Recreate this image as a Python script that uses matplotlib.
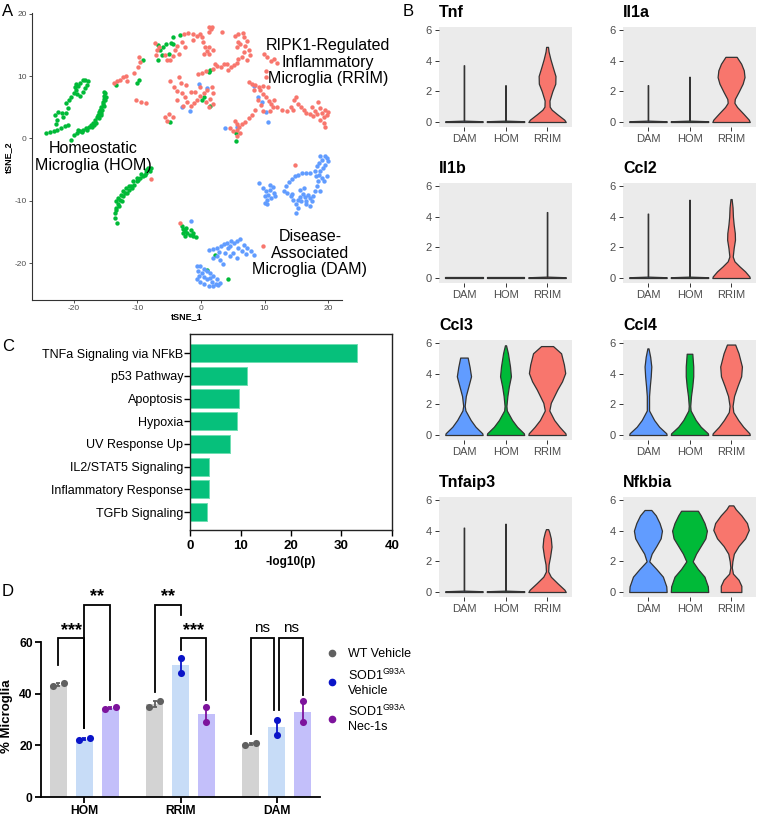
import matplotlib
matplotlib.use('Agg')
import matplotlib.pyplot as plt
from matplotlib.lines import Line2D
import numpy as np

plt.rcParams['font.family'] = ['Liberation Sans', 'DejaVu Sans']
plt.rcParams['mathtext.fontset'] = 'custom'
plt.rcParams['mathtext.rm'] = 'Liberation Sans'
plt.rcParams['mathtext.it'] = 'Liberation Sans:italic'
plt.rcParams['mathtext.bf'] = 'Liberation Sans:bold'
plt.rcParams['axes.unicode_minus'] = False

# ======================= DATA =======================
# ---- Panel A: tSNE coordinates (tSNE_1, tSNE_2) per cluster ----
hom_cells = [
    (-24.4, 0.9), (-23.8, 1.1), (-23.1, 1.2), (-22.6, 1.4), (-22.1, 1.7), (-21.4, 2.0), (-20.9, 2.1),
    (-22.8, 2.3), (-22.6, 3.0), (-23.0, 3.7), (-22.5, 4.3), (-21.9, 4.0), (-21.7, 3.4), (-21.2, 4.0),
    (-20.9, 4.8), (-21.3, 5.6), (-20.7, 6.1), (-20.4, 6.7), (-20.0, 7.2), (-19.6, 7.8), (-19.3, 8.4),
    (-19.0, 8.9), (-18.5, 9.3), (-18.2, 9.4), (-17.8, 9.2), (-18.0, 8.6), (-18.3, 8.1), (-18.6, 7.5),
    (-19.1, 6.8), (-19.7, 8.8), (-19.9, 8.2), (-19.5, 7.1),
    (-20.5, -0.3), (-20.0, 0.5), (-19.5, 0.9), (-19.1, 1.2), (-18.5, 1.4), (-18.1, 1.7), (-17.7, 1.9),
    (-17.3, 2.1), (-17.0, 2.5), (-16.7, 2.9), (-16.4, 3.4), (-16.2, 3.8), (-16.0, 4.2), (-15.9, 4.6),
    (-15.7, 5.1), (-15.5, 5.5), (-15.4, 5.9), (-15.3, 6.3), (-15.2, 6.8), (-15.1, 7.2), (-15.3, 7.5),
    (-18.8, 1.1), (-17.9, 1.4), (-17.1, 1.9), (-16.5, 2.4), (-16.1, 3.2), (-15.7, 4.0), (-15.6, 4.5),
    (-15.3, 5.2), (-15.1, 6.1), (-15.0, 6.7), (-19.3, 1.4), (-16.9, 2.2), (-15.8, 3.7),
    (-13.2, -13.5), (-13.5, -12.8), (-13.5, -12.0), (-13.3, -11.2), (-13.0, -10.5), (-12.8, -9.9),
    (-12.3, -9.3), (-12.0, -8.7), (-11.4, -8.3), (-11.0, -7.7), (-10.6, -7.4), (-10.1, -6.9),
    (-9.6, -6.4), (-9.1, -6.0), (-8.6, -5.6), (-8.0, -5.2), (-8.3, -4.8), (-7.8, -4.8), (-8.6, -5.1),
    (-9.4, -5.7), (-10.0, -6.4), (-10.7, -6.9), (-11.3, -7.6), (-11.8, -8.0), (-12.2, -8.5),
    (-12.6, -9.1), (-13.0, -9.6), (-13.3, -10.1), (-12.5, -10.1), (-12.9, -10.9), (-13.4, -11.5),
    (-11.7, -8.8), (-10.9, -8.0), (-9.9, -6.7), (-8.8, -5.9),
    (-3.0, -14.0), (-2.8, -14.6), (-2.5, -14.9), (-2.2, -15.2), (-1.7, -15.5), (-1.2, -15.6),
    (-0.8, -15.8), (-2.3, -14.4), (-1.6, -14.7), (-1.3, -15.1), (-2.9, -15.2), (-2.5, -15.6),
    (-6.7, 14.9), (-6.4, 14.2), (-5.9, 14.7), (-5.5, 15.1), (-4.7, 15.3), (-4.4, 15.1), (-6.1, 13.3),
    (-6.7, 12.6), (-5.1, 13.5), (-3.3, 16.5), (-9.1, 12.5), (-13.3, 8.5), (-10.0, 8.9), (-9.7, 9.4),
    (1.2, 10.7), (1.4, 11.0), (0.5, 6.6), (0.2, 6.2), (1.4, 5.2), (-4.9, 2.7), (5.5, 0.8), (5.5, -0.4),
    (2.2, -18.7), (4.2, -22.5), (0.9, -21.1), (-4.4, 16.3),
]
rrim_cells = [
    (-13.7, 8.9), (-13.2, 9.2), (-12.7, 9.4), (-12.2, 9.8), (-11.8, 10.0), (-11.7, 9.2), (-9.7, 13.0),
    (-9.6, 12.2), (-9.9, 11.5), (-10.6, 10.5), (-10.2, 6.2), (-9.5, 5.9), (-8.6, 5.7),
    (-7.2, 15.3), (-7.0, 14.1), (-7.1, 13.3), (-6.6, 14.6), (-5.7, 13.3), (-5.4, 12.5), (-4.8, 12.6),
    (-4.1, 14.1), (-3.7, 14.8), (-3.0, 15.5), (-2.5, 14.7), (-3.4, 13.5), (-4.4, 13.2), (-2.7, 16.7),
    (-2.0, 16.9), (-1.3, 16.8), (-0.7, 16.4), (-1.2, 15.8),
    (-0.2, 16.8), (0.1, 16.2), (0.3, 15.5), (0.6, 14.7), (0.9, 14.0), (1.2, 13.5), (0.5, 13.6),
    (1.3, 14.7), (1.2, 17.9), (1.5, 17.5), (1.3, 17.1), (1.7, 17.8), (3.3, 17.1), (1.9, 14.1),
    (-0.4, 10.3), (0.1, 10.5), (0.8, 10.8), (1.9, 11.2), (2.6, 11.6), (3.1, 11.4), (3.6, 11.9),
    (4.1, 12.0), (4.7, 11.5), (5.2, 11.7), (5.7, 12.1), (5.9, 12.8), (2.2, 12.0), (4.3, 10.9),
    (5.4, 16.4), (5.9, 16.7), (6.6, 16.9), (6.7, 16.2), (7.3, 15.6), (6.9, 14.8), (7.6, 14.1),
    (6.8, 13.9), (6.1, 15.2), (5.6, 14.6), (7.7, 13.3), (7.2, 12.6), (6.4, 13.1), (5.8, 15.5),
    (9.9, 13.6), (10.4, 13.0), (11.0, 12.4), (11.5, 12.8), (11.9, 12.1), (10.3, 10.8), (10.2, 9.8),
    (-4.8, 9.2), (-4.3, 8.2), (-3.7, 7.6), (-3.2, 8.9), (-3.0, 7.3), (-2.5, 6.6), (-2.2, 5.8),
    (-1.6, 5.2), (-1.1, 5.6), (-0.6, 6.2), (-0.1, 6.8), (0.5, 7.3), (1.0, 7.8), (1.7, 8.2), (1.9, 7.3),
    (1.4, 6.3), (0.8, 5.8), (1.3, 5.0), (1.9, 5.5), (-1.5, 7.5), (-2.3, 8.5), (-2.9, 5.2), (-3.8, 6.1),
    (-5.1, 3.9), (-5.7, 3.4), (-5.3, 2.8), (-4.4, 3.5), (-0.9, 7.5), (-0.2, 8.3), (-3.4, 9.8),
    (7.5, 9.1), (8.0, 8.8), (8.5, 8.5), (9.3, 7.7), (9.8, 7.1), (10.3, 6.6), (10.7, 6.0), (11.0, 5.5),
    (11.4, 5.0), (8.9, 6.1), (9.4, 5.3), (9.8, 4.4), (10.9, 4.4), (12.0, 5.0), (12.8, 4.5),
    (13.5, 4.4), (14.1, 5.1), (14.6, 6.1), (15.0, 6.6), (15.3, 5.5), (15.8, 5.0), (16.2, 4.6),
    (14.5, 4.6), (8.3, 7.8), (9.1, 8.2), (9.7, 8.4), (10.6, 8.2), (11.5, 6.2), (8.5, 4.5), (8.0, 3.7),
    (7.5, 3.2),
    (17.4, 5.1), (18.0, 4.4), (18.5, 5.9), (18.8, 4.8), (19.1, 4.0), (19.4, 3.5), (19.6, 4.5),
    (19.8, 3.7), (18.7, 2.9), (19.3, 2.4), (19.6, 1.9), (18.3, 3.9), (17.7, 3.6), (20.0, 4.3),
    (17.2, 3.9), (16.6, 4.0),
    (5.4, 2.8), (5.7, 2.3), (6.0, 1.8), (6.5, 2.3), (7.0, 2.7), (6.1, 0.9), (5.7, 0.4), (5.1, 1.2),
    (4.6, 1.6), (5.7, 1.3),
    (-7.8, -6.5), (-3.3, -13.5), (14.8, -4.3), (9.8, -17.3),
]
dam_cells = [
    (9.2, -7.1), (9.8, -8.0), (10.2, -8.5), (10.6, -9.1), (10.4, -9.8), (10.1, -10.3), (10.9, -8.3),
    (11.3, -7.8), (11.5, -8.7), (11.0, -9.6), (10.8, -7.5), (11.7, -9.3), (10.1, -9.2), (10.4, -10.5),
    (13.1, -8.4), (13.4, -7.6), (13.8, -7.0), (14.3, -6.5), (14.8, -6.0), (15.3, -5.8), (15.9, -5.6),
    (16.5, -5.6), (17.1, -5.5), (13.6, -8.8), (14.1, -9.2), (14.5, -9.9), (14.9, -10.5), (15.2, -11.2),
    (14.9, -11.9), (14.4, -8.9), (15.3, -9.8),
    (15.6, -8.3), (16.0, -8.9), (16.4, -9.4), (16.6, -10.0), (17.1, -9.6), (17.4, -10.1), (16.9, -9.1),
    (16.2, -8.0), (16.5, -10.5), (17.2, -10.8), (17.7, -9.3), (15.6, -9.4), (15.8, -10.1), (18.0, -8.5),
    (18.3, -7.7), (18.7, -8.4),
    (18.2, -4.4), (18.6, -3.9), (19.1, -3.4), (19.5, -2.8), (19.8, -3.1), (20.0, -3.7), (19.6, -4.3),
    (19.2, -4.8), (18.8, -5.3), (18.6, -5.9), (19.1, -6.3), (19.4, -6.9), (19.8, -6.0), (18.5, -6.9),
    (18.1, -6.1), (17.9, -5.3), (18.7, -2.9),
    (1.2, -17.9), (1.9, -17.8), (2.6, -17.5), (3.1, -17.3), (3.6, -17.0), (4.1, -16.7), (4.7, -16.4),
    (5.2, -16.8), (5.7, -16.5), (6.2, -16.1), (6.8, -17.1), (7.3, -17.6), (7.8, -18.1), (8.3, -18.7),
    (3.8, -18.4), (4.6, -18.9), (5.1, -18.3), (5.6, -19.2), (3.0, -19.5), (3.5, -20.1), (2.5, -18.8),
    (5.9, -17.6), (6.5, -18.1), (4.3, -17.6), (7.1, -18.5), (2.8, -18.2), (4.6, -17.3), (1.9, -19.2),
    (-0.7, -20.4), (-0.2, -20.5), (0.4, -20.9), (0.9, -21.2), (1.4, -21.6), (1.9, -22.0), (2.5, -22.6),
    (3.0, -23.2), (2.4, -23.3), (1.7, -23.0), (1.0, -22.6), (0.4, -22.2), (-0.3, -22.0), (-0.7, -22.5),
    (-0.2, -23.0), (0.5, -23.3), (1.2, -23.6), (1.9, -23.7), (2.7, -23.5), (-0.4, -21.3), (0.1, -21.6),
    (1.4, -22.3),
    (-3.0, 5.1), (-1.7, 4.4), (-0.3, 8.8), (0.9, 8.0), (8.3, 8.4), (9.0, 6.7), (9.6, 5.9), (10.3, 4.3),
    (10.6, 2.7), (3.8, 1.7), (5.6, 1.9), (-1.6, -13.2),
]
cluster_names = ['HOM', 'DAM', 'RRIM']

# ---- Panel B: violin outlines (expression level, relative half-width) ----
vln_groups = ['DAM', 'HOM', 'RRIM']
vln_genes = ['Tnf', 'Il1a', 'Il1b', 'Ccl2', 'Ccl3', 'Ccl4', 'Tnfaip3', 'Nfkbia']
# zero-inflated groups: maximum expression of the thin spike (0 = flat line only)
vln_spike_max = {
    'Tnf': {'DAM': 3.7, 'HOM': 2.4},
    'Il1a': {'DAM': 2.4, 'HOM': 2.95},
    'Il1b': {'DAM': 0.0, 'HOM': 0.0, 'RRIM': 4.3},
    'Ccl2': {'DAM': 4.2, 'HOM': 5.1},
    'Tnfaip3': {'DAM': 4.2, 'HOM': 4.45},
}
vln_profiles = {
    'Tnf': {'RRIM': ([0, 0.15, 0.5, 0.8, 1.0, 1.4, 2.0, 2.5, 3.0, 3.6, 4.1, 4.6, 4.9],
                     [1.0, 0.92, 0.55, 0.25, 0.14, 0.13, 0.28, 0.44, 0.45, 0.3, 0.18, 0.08, 0.05])},
    'Il1a': {'RRIM': ([0, 0.15, 0.54, 0.98, 1.25, 1.5, 1.96, 2.5, 2.93, 3.37, 3.8, 4.1, 4.25],
                      [1.0, 0.95, 0.66, 0.32, 0.18, 0.2, 0.4, 0.62, 0.72, 0.68, 0.54, 0.38, 0.3])},
    'Ccl2': {'RRIM': ([0, 0.1, 0.43, 0.76, 1.09, 1.4, 1.96, 2.5, 2.93, 3.48, 4.0, 4.6, 5.15],
                      [1.0, 0.98, 0.75, 0.45, 0.18, 0.09, 0.14, 0.21, 0.2, 0.14, 0.1, 0.08, 0.03])},
    'Ccl3': {'DAM': ([0, 0.11, 0.54, 0.98, 1.6, 1.9, 2.54, 3.18, 3.83, 4.45, 5.05],
                     [1.0, 0.98, 0.62, 0.36, 0.08, 0.04, 0.1, 0.24, 0.38, 0.3, 0.2]),
             'HOM': ([0, 0.11, 0.54, 0.98, 1.6, 1.9, 2.54, 3.18, 3.83, 4.47, 5.33, 5.85],
                     [1.0, 0.98, 0.62, 0.35, 0.07, 0.05, 0.1, 0.18, 0.29, 0.24, 0.13, 0.03]),
             'RRIM': ([0, 0.11, 0.54, 0.98, 1.6, 2.1, 2.97, 3.5, 4.04, 4.6, 5.33, 5.8],
                      [1.0, 0.98, 0.66, 0.38, 0.12, 0.2, 0.55, 0.8, 0.97, 0.9, 0.75, 0.32])},
    'Ccl4': {'DAM': ([0, 0.11, 0.54, 0.98, 1.6, 2.54, 3.18, 3.83, 4.47, 5.1, 5.65],
                     [1.0, 0.98, 0.6, 0.33, 0.06, 0.06, 0.1, 0.15, 0.18, 0.12, 0.03]),
             'HOM': ([0, 0.11, 0.54, 0.98, 1.6, 1.9, 2.54, 3.18, 3.83, 4.47, 5.3],
                     [1.0, 0.98, 0.6, 0.33, 0.06, 0.04, 0.08, 0.15, 0.2, 0.2, 0.15]),
             'RRIM': ([0, 0.11, 0.54, 0.98, 1.5, 1.9, 2.54, 3.18, 3.83, 4.47, 5.33, 5.9],
                      [1.0, 0.98, 0.65, 0.38, 0.12, 0.08, 0.16, 0.34, 0.54, 0.58, 0.4, 0.22])},
    'Tnfaip3': {'RRIM': ([0, 0.15, 0.58, 1.0, 1.34, 1.8, 2.3, 2.96, 3.5, 3.9, 4.1],
                         [1.0, 0.93, 0.55, 0.2, 0.06, 0.08, 0.16, 0.24, 0.2, 0.12, 0.06])},
    'Nfkbia': {'DAM': ([0, 0.37, 1.0, 1.5, 2.0, 2.5, 3.0, 3.5, 4.0, 4.5, 5.0, 5.35],
                       [1.0, 0.98, 0.8, 0.45, 0.07, 0.2, 0.45, 0.68, 0.75, 0.62, 0.42, 0.18]),
               'HOM': ([0, 0.37, 1.0, 1.5, 2.0, 2.5, 3.0, 3.5, 4.0, 4.5, 5.0, 5.3],
                       [1.0, 0.98, 0.8, 0.45, 0.17, 0.35, 0.6, 0.85, 0.93, 0.8, 0.6, 0.45]),
               'RRIM': ([0, 0.4, 0.8, 1.2, 1.6, 2.0, 2.5, 3.0, 3.5, 4.05, 4.5, 5.0, 5.4, 5.65],
                        [0.55, 0.55, 0.4, 0.1, 0.04, 0.07, 0.15, 0.4, 0.75, 0.95, 0.85, 0.55, 0.25, 0.12])},
}

# ---- Panel C: pathway enrichment ----
pathways = ['TNFa Signaling via NFkB', 'p53 Pathway', 'Apoptosis', 'Hypoxia', 'UV Response Up',
            'IL2/STAT5 Signaling', 'Inflammatory Response', 'TGFb Signaling']
neglog10p = [33.2, 11.2, 9.7, 9.2, 7.9, 3.8, 3.7, 3.4]

# ---- Panel D: % microglia per cluster (two animals each) ----
d_groups = ['HOM', 'RRIM', 'DAM']
d_labels = ['WT Vehicle', 'SOD1$^{\\mathrm{G93A}}$\nVehicle', 'SOD1$^{\\mathrm{G93A}}$\nNec-1s']
wt_vehicle = [[43, 44], [35, 37], [20, 21]]
sod1_vehicle = [[22, 23], [48, 54], [24, 30]]
sod1_nec1s = [[34, 35], [29, 35], [29, 37]]
# significance: (group, cond a, cond b, bracket height, leg a bottom, leg b bottom, label)
d_sig = [
    (0, 0, 1, 61.4, 51.0, 26.6, '***'),
    (0, 1, 2, 74.3, 26.6, 37.5, '**'),
    (1, 0, 1, 74.3, 40.7, 70.3, '**'),
    (1, 1, 2, 61.4, 56.8, 37.5, '***'),
    (2, 0, 1, 61.4, 24.5, 33.7, 'ns'),
    (2, 1, 2, 61.4, 33.7, 39.4, 'ns'),
]

# ======================= FIGURE =======================
W, H = 757, 821
fig = plt.figure(figsize=(W / 100, H / 100), dpi=100)


def add_ax(l, t, r, b):
    return fig.add_axes([l / W, 1 - b / H, (r - l) / W, (b - t) / H])


def ftext(x, y, s, **kw):
    fig.text(x / W, 1 - y / H, s, **kw)


RED, GREEN, BLUE = '#F8766D', '#00BA38', '#619CFF'
clus_col = {'HOM': GREEN, 'DAM': BLUE, 'RRIM': RED}

# ---------------- Panel A ----------------
axA = add_ax(32, 13, 342, 300)
for name, cells in zip(cluster_names, [hom_cells, dam_cells, rrim_cells]):
    xy = np.array(cells)
    axA.scatter(xy[:, 0], xy[:, 1], s=10, color=clus_col[name], linewidths=0, zorder=2)
axA.set_xlim(-26.6, 22.2)
axA.set_ylim(-25.9, 20.1)
axA.set_xticks([-20, -10, 0, 10, 20])
axA.set_yticks([-20, -10, 0, 10, 20])
for s in ['top', 'right']:
    axA.spines[s].set_visible(False)
for s in ['left', 'bottom']:
    axA.spines[s].set_color('#333333')
    axA.spines[s].set_linewidth(0.8)
axA.tick_params(length=2.5, width=0.6, color='#333333', labelsize=6, labelcolor='#4D4D4D', pad=1.2)
ftext(187, 317, 'tSNE_1', ha='center', va='center', fontsize=6.5, fontweight='bold')
ftext(8, 157, 'tSNE_2', ha='center', va='center', fontsize=6.5, fontweight='bold', rotation=90)
ftext(328, 62, 'RIPK1-Regulated\nInflammatory\nMicroglia (RRIM)', ha='center', va='center',
      fontsize=11.5, linespacing=1.15)
ftext(93, 157, 'Homeostatic\nMicroglia (HOM)', ha='center', va='center', fontsize=11.5, linespacing=1.15)
ftext(310, 253, 'Disease-\nAssociated\nMicroglia (DAM)', ha='center', va='center', fontsize=11.5,
      linespacing=1.15)

# ---------------- Panel B ----------------
col_left = [439, 623]
zero_lines = [122, 278, 435, 592]
ppu = 15.33
for gi, gene in enumerate(vln_genes):
    r, c = divmod(gi, 2)
    l = col_left[c]
    b = zero_lines[r] + 0.3 * ppu
    t = b - 6.5 * ppu
    ax = add_ax(l, t, l + 133, b)
    ax.set_facecolor('#EBEBEB')
    for s in ax.spines.values():
        s.set_visible(False)
    for k, grp in enumerate(vln_groups):
        pos = k + 1
        if gene in vln_spike_max and grp in vln_spike_max[gene]:
            m = vln_spike_max[gene][grp]
            if m > 0:
                ys, ws = [0, 0.05, 0.09, m], [1, 1, 0.012, 0.012]
            else:
                ys, ws = [0, 0.05], [1, 1]
        else:
            ys, ws = vln_profiles[gene][grp]
        ys = np.array(ys, float)
        half = 0.45 * np.array(ws, float)
        ax.fill_betweenx(ys, pos - half, pos + half, facecolor=clus_col[grp], edgecolor='#333333',
                         linewidth=0.9, zorder=2)
    ax.set_xlim(0.4, 3.6)
    ax.set_ylim(-0.3, 6.2)
    ax.set_xticks([1, 2, 3])
    ax.set_xticklabels(vln_groups)
    ax.set_yticks([0, 2, 4, 6])
    ax.tick_params(length=3, width=0.7, color='#333333', labelsize=8, labelcolor='#4D4D4D', pad=2)
    ax.text(0.0, 1 + 14.5 / 99.6, gene, transform=ax.transAxes, ha='left', va='center',
            fontsize=11.5, fontweight='bold')

# ---------------- Panel C ----------------
axC = add_ax(190.3, 334, 391.7, 530)
ypos = np.arange(len(pathways))
axC.barh(ypos, neglog10p, height=0.8, color='#06C07B', edgecolor='#6FDDB2', linewidth=0.7, zorder=2)
axC.set_ylim(7.79, -0.84)
axC.set_xlim(0, 40)
axC.set_yticks(ypos)
axC.set_yticklabels(pathways)
axC.set_xticks([0, 10, 20, 30, 40])
for s in axC.spines.values():
    s.set_linewidth(1.0)
    s.set_color('#222222')
axC.tick_params(axis='y', length=4, width=1.0, labelsize=9, pad=1)
axC.tick_params(axis='x', length=4, width=1.0, labelsize=9.5, pad=3)
for lab in axC.get_xticklabels():
    lab.set_fontweight('bold')
axC.set_xlabel('-log10(p)', fontsize=8.5, fontweight='bold', labelpad=3)

# ---------------- Panel D ----------------
axD = add_ax(41, 590.4, 320, 797)
bar_cols = ['#D3D3D3', '#C7DCF7', '#C3BFFA']
dot_cols = ['#606060', '#0A14C8', '#7D139C']
offs = [-0.27, 0.0, 0.27]
cond_vals = [wt_vehicle, sod1_vehicle, sod1_nec1s]
for ci, vals in enumerate(cond_vals):
    for gi in range(len(d_groups)):
        v = np.array(sorted(vals[gi]), float)
        x0 = gi + offs[ci]
        mean = v.mean()
        sem = v.std(ddof=1) / np.sqrt(len(v))
        axD.bar(x0, mean, width=0.18, color=bar_cols[ci], zorder=1)
        if abs(v[1] - v[0]) < 3:
            xs = [x0 - 0.057, x0 + 0.057]
        else:
            xs = [x0, x0]
        axD.errorbar(x0, mean, yerr=sem, fmt='none', ecolor=dot_cols[ci], elinewidth=1.3,
                     capsize=1.5, capthick=1.3, zorder=3)
        axD.scatter(xs, v, s=26, color=dot_cols[ci], linewidths=0, zorder=4)

for gi, ca, cb, ytop, ya, yb, lab in d_sig:
    xa = gi + offs[ca]
    xb = gi + offs[cb]
    if lab == 'ns':
        if cb == 1:
            xb -= 0.026
        if ca == 1:
            xa += 0.026
    axD.plot([xa, xa, xb, xb], [ya, ytop, ytop, yb], color='black', lw=1.3, zorder=5,
             solid_joinstyle='miter', clip_on=False)
    xm = (xa + xb) / 2
    if lab == 'ns':
        axD.text(xm, ytop + 1.5, lab, ha='center', va='bottom', fontsize=11, zorder=6)
    else:
        axD.text(xm, ytop - 0.1, lab, ha='center', va='bottom', fontsize=13, fontweight='bold', zorder=6)

axD.set_xlim(-0.45, 2.45)
axD.set_ylim(0, 80)
axD.set_yticks([0, 20, 40, 60])
axD.set_xticks(range(len(d_groups)))
axD.set_xticklabels(d_groups)
for s in ['top', 'right']:
    axD.spines[s].set_visible(False)
axD.spines['left'].set_bounds(0, 60)
for s in ['left', 'bottom']:
    axD.spines[s].set_linewidth(1.3)
axD.tick_params(length=4, width=1.3, labelsize=8.7, pad=2)
for lab in axD.get_xticklabels() + axD.get_yticklabels():
    lab.set_fontweight('bold')
axD.set_ylabel('% Microglia', fontsize=9.5, fontweight='bold', labelpad=4)
axD.yaxis.set_label_coords(-0.1, 0.39)

handles = [Line2D([], [], marker='o', ls='none', color=dot_cols[i], markersize=4.5) for i in range(3)]
fig.legend(handles, d_labels, loc='upper left', bbox_to_anchor=(322 / W, 1 - 643 / H), frameon=False,
           fontsize=9, handlelength=0.8, handletextpad=0.9, labelspacing=0.6, borderaxespad=0)

# ---------------- panel letters ----------------
for lab, x, y in [('A', 8, 12), ('B', 408, 12), ('C', 8, 346), ('D', 8, 591)]:
    ftext(x, y, lab, ha='center', va='center', fontsize=12)

fig.savefig('out.png', dpi=100)
